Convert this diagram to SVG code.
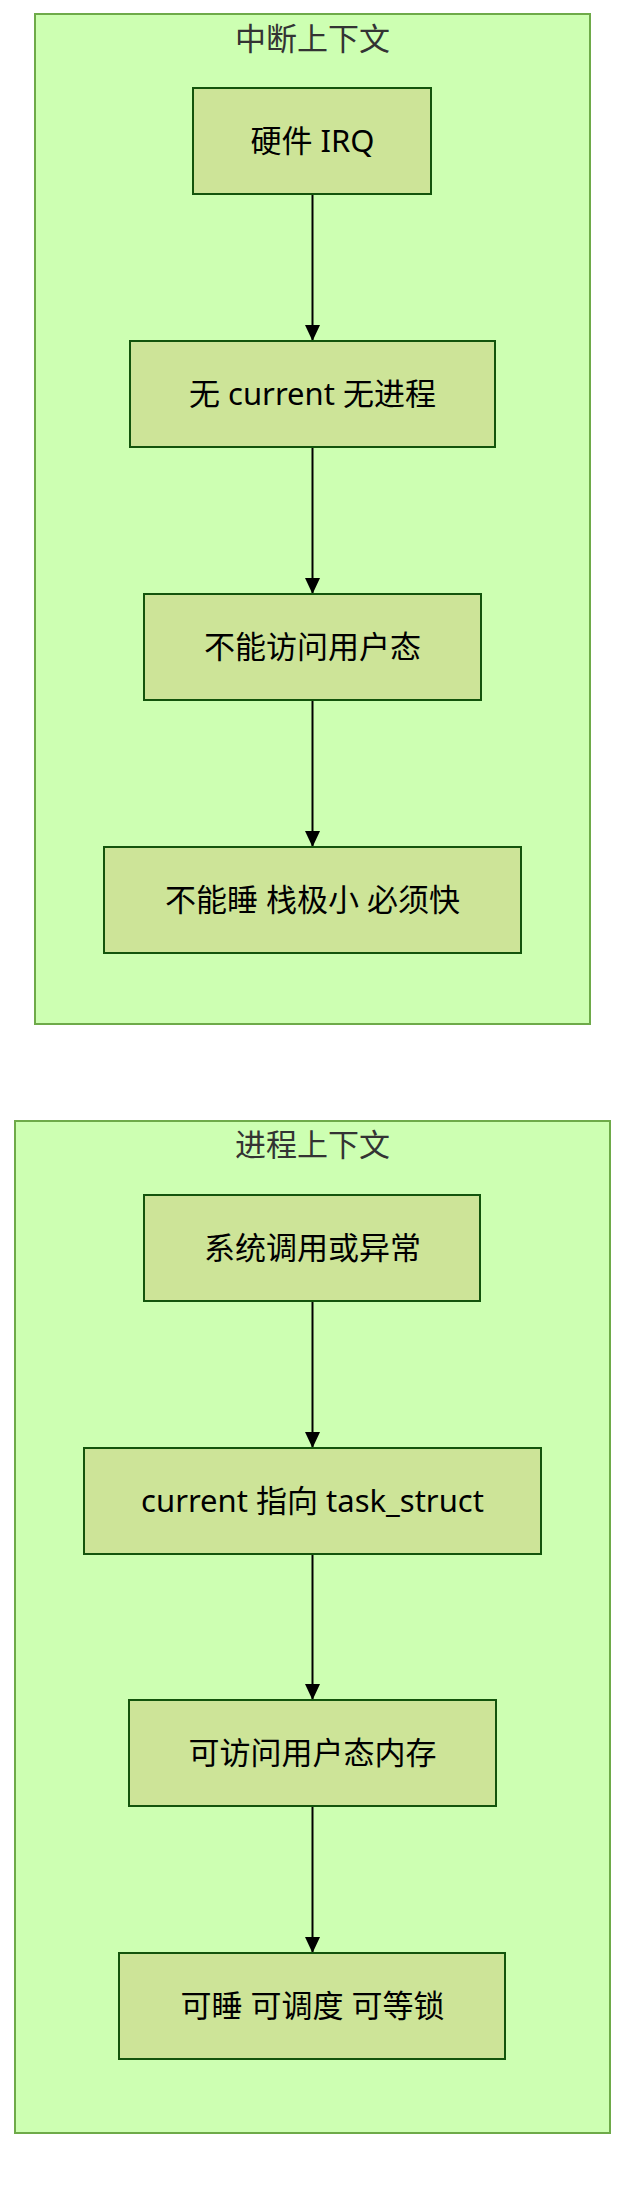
<svg xmlns="http://www.w3.org/2000/svg" width="642" height="2196" viewBox="0 0 642 2196">
<style>
.cluster{fill:#cdffb2;stroke:#6eaa49;stroke-width:2}
.node rect{fill:#cde498;stroke:#13540c;stroke-width:2}
.title{font-family:"Noto Sans","Noto Sans CJK SC",sans-serif;font-size:31px;fill:#333333;text-anchor:middle}
.label{font-family:"Noto Sans","Noto Sans CJK SC",sans-serif;font-size:31px;fill:#000000;text-anchor:middle}
.edge{stroke:#000000;stroke-width:2;fill:none}
</style>
<defs>
<marker id="arrow" viewBox="0 0 16 15" refX="16" refY="7.5" markerWidth="16" markerHeight="15" markerUnits="userSpaceOnUse" orient="auto">
<path d="M0,0 L16,7.5 L0,15 z" fill="#000000"/>
</marker>
</defs>
<rect width="642" height="2196" fill="#ffffff"/>
<g id="cluster-interrupt">
<rect class="cluster" x="35" y="14" width="555" height="1010"/>
<text class="title" x="312.5" y="50">中断上下文</text>
</g>
<g id="cluster-process">
<rect class="cluster" x="15" y="1121" width="595" height="1012"/>
<text class="title" x="312.5" y="1156">进程上下文</text>
</g>
<g id="connectors">
<line class="edge" x1="312.5" y1="194" x2="312.5" y2="341" marker-end="url(#arrow)"/>
<line class="edge" x1="312.5" y1="447" x2="312.5" y2="594" marker-end="url(#arrow)"/>
<line class="edge" x1="312.5" y1="700" x2="312.5" y2="847" marker-end="url(#arrow)"/>
<line class="edge" x1="312.5" y1="1301" x2="312.5" y2="1448" marker-end="url(#arrow)"/>
<line class="edge" x1="312.5" y1="1554" x2="312.5" y2="1700" marker-end="url(#arrow)"/>
<line class="edge" x1="312.5" y1="1806" x2="312.5" y2="1953" marker-end="url(#arrow)"/>
</g>
<g id="n-irq" class="node">
<rect x="193" y="88" width="238" height="106"/>
<text class="label" x="312.5" y="152">硬件 IRQ</text>
</g>
<g id="n-nocurrent" class="node">
<rect x="130" y="341" width="365" height="106"/>
<text class="label" x="312.5" y="405">无 current 无进程</text>
</g>
<g id="n-nouser" class="node">
<rect x="144" y="594" width="337" height="106"/>
<text class="label" x="312.5" y="658">不能访问用户态</text>
</g>
<g id="n-nosleep" class="node">
<rect x="104" y="847" width="417" height="106"/>
<text class="label" x="312.5" y="911">不能睡 栈极小 必须快</text>
</g>
<g id="n-syscall" class="node">
<rect x="144" y="1195" width="336" height="106"/>
<text class="label" x="312.5" y="1259">系统调用或异常</text>
</g>
<g id="n-current" class="node">
<rect x="84" y="1448" width="457" height="106"/>
<text class="label" x="312.5" y="1512">current 指向 task_struct</text>
</g>
<g id="n-user" class="node">
<rect x="129" y="1700" width="367" height="106"/>
<text class="label" x="312.5" y="1764">可访问用户态内存</text>
</g>
<g id="n-sleep" class="node">
<rect x="119" y="1953" width="386" height="106"/>
<text class="label" x="312.5" y="2017">可睡 可调度 可等锁</text>
</g>
</svg>
